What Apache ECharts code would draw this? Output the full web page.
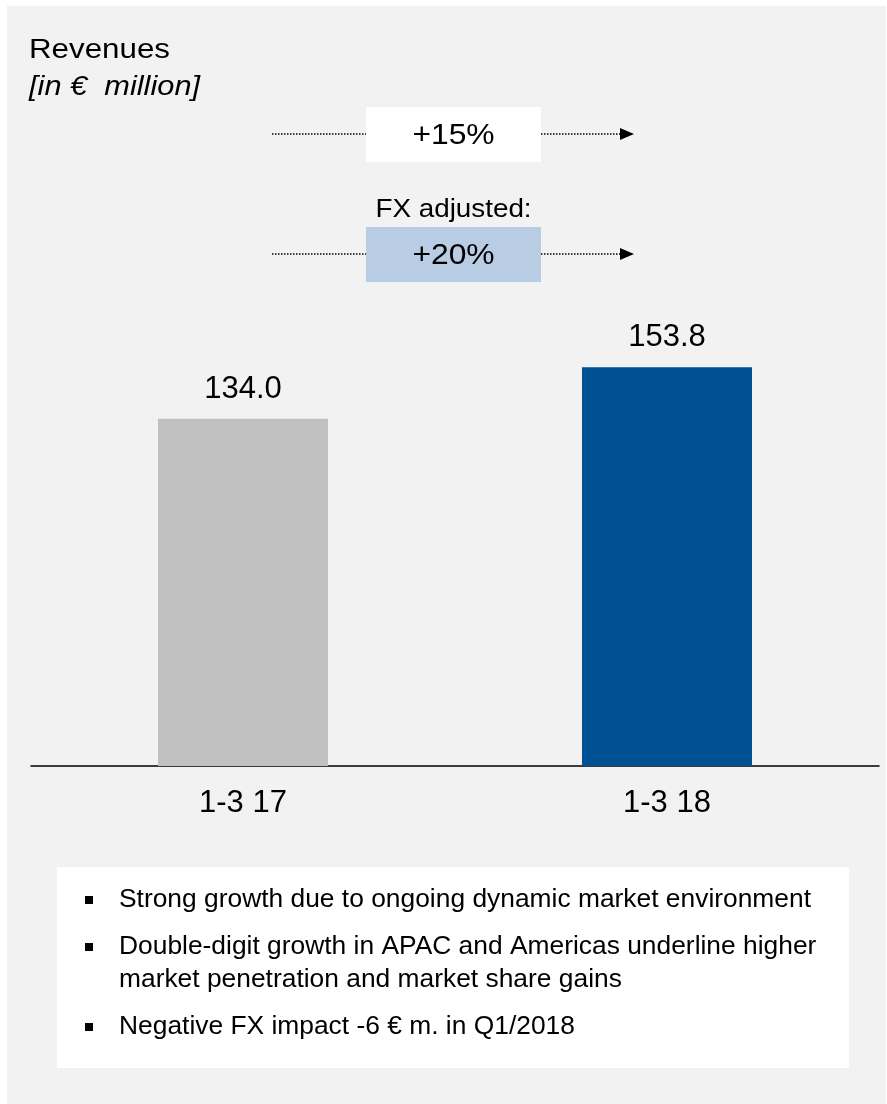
<!DOCTYPE html>
<html>
<head>
<meta charset="utf-8">
<script src="https://cdn.jsdelivr.net/npm/echarts@6/dist/echarts.min.js"></script>
<style>
  html, body { margin: 0; padding: 0; background: #ffffff; }
  #chart { width: 887px; height: 1104px; }
</style>
</head>
<body>
<div id="chart"></div>
<script>
// Quarterly revenue comparison
const categories = ['1-3 17', '1-3 18'];
const revenues = [134.0, 153.8];
const barColors = ['#c0c0c0', '#005193'];
const growthLabel = '+15%';
const fxLabel = 'FX adjusted:';
const fxGrowthLabel = '+20%';
const bullets = [
  ['Strong growth due to ongoing dynamic market environment'],
  ['Double-digit growth in APAC and Americas underline higher', 'market penetration and market share gains'],
  ['Negative FX impact -6 € m. in Q1/2018']
];

const FONT = '"Liberation Sans", Arial, sans-serif';
const chart = echarts.init(document.getElementById('chart'), null, { renderer: 'canvas' });

// Text helper with a slight horizontal widening
function label(x, y, text, font, align, sx) {
  return {
    type: 'text', x: x, y: y, scaleX: sx || 1,
    style: { text: text, font: font, fill: '#000', align: align || 'left', verticalAlign: 'middle' }
  };
}

// Growth arrow row: dotted line, label box, dotted line, arrow head
function arrowRow(y, boxTop, boxH, fill, text) {
  const dots = { stroke: '#000', lineWidth: 1.5, lineDash: [1.5, 1.5] };
  return [
    { type: 'line', shape: { x1: 272, y1: y, x2: 366, y2: y }, style: dots },
    { type: 'rect', shape: { x: 366, y: boxTop, width: 175, height: boxH }, style: { fill: fill } },
    label(453.5, boxTop + boxH / 2 + 1, text, '30px ' + FONT, 'center', 1.06),
    { type: 'line', shape: { x1: 541, y1: y, x2: 622, y2: y }, style: dots },
    { type: 'polygon', shape: { points: [[620, y - 6], [634, y], [620, y + 6]] }, style: { fill: '#000' } }
  ];
}

// Bullet list panel
function bulletItems() {
  const items = [{ type: 'rect', shape: { x: 57, y: 867, width: 792, height: 201 }, style: { fill: '#ffffff' } }];
  const starts = [900, 947, 1027];
  bullets.forEach((lines, i) => {
    const y0 = starts[i];
    items.push({ type: 'rect', shape: { x: 85, y: y0 - 4, width: 8, height: 8 }, style: { fill: '#000' } });
    lines.forEach((t, j) => {
      items.push(label(119, y0 + j * 33, t, '25px ' + FONT, 'left', 1.055));
    });
  });
  return items;
}

const option = {
  backgroundColor: '#ffffff',
  animation: false,
  grid: { left: 31, right: 8, top: 351.3, bottom: 338, containLabel: false },
  xAxis: {
    type: 'category',
    data: categories,
    axisLine: { show: true, lineStyle: { color: '#000', width: 1.5 } },
    axisTick: { show: false },
    axisLabel: { color: '#000', fontSize: 31, fontFamily: FONT, margin: 22 }
  },
  yAxis: {
    type: 'value',
    min: 0,
    max: 160,
    show: false,
    splitLine: { show: false }
  },
  series: [{
    type: 'bar',
    data: revenues.map((v, i) => ({ value: v, itemStyle: { color: barColors[i] } })),
    barWidth: 170,
    label: {
      show: true,
      position: 'top',
      distance: 14,
      color: '#000',
      fontSize: 31,
      fontFamily: FONT,
      formatter: p => p.value.toFixed(1)
    }
  }],
  graphic: [
    { type: 'rect', z: -10, shape: { x: 7, y: 6, width: 879, height: 1098 }, style: { fill: '#f2f2f2' } },
    label(29, 51, 'Revenues', '27px ' + FONT, 'left', 1.16),
    label(29, 87, '[in €  million]', 'italic 27px ' + FONT, 'left', 1.14),
    ...arrowRow(134, 107, 55, '#ffffff', growthLabel),
    label(453.5, 210, fxLabel, '26px ' + FONT, 'center', 1.07),
    ...arrowRow(254, 227, 55, '#b8cce4', fxGrowthLabel),
    ...bulletItems()
  ]
};
chart.setOption(option);
</script>
</body>
</html>
